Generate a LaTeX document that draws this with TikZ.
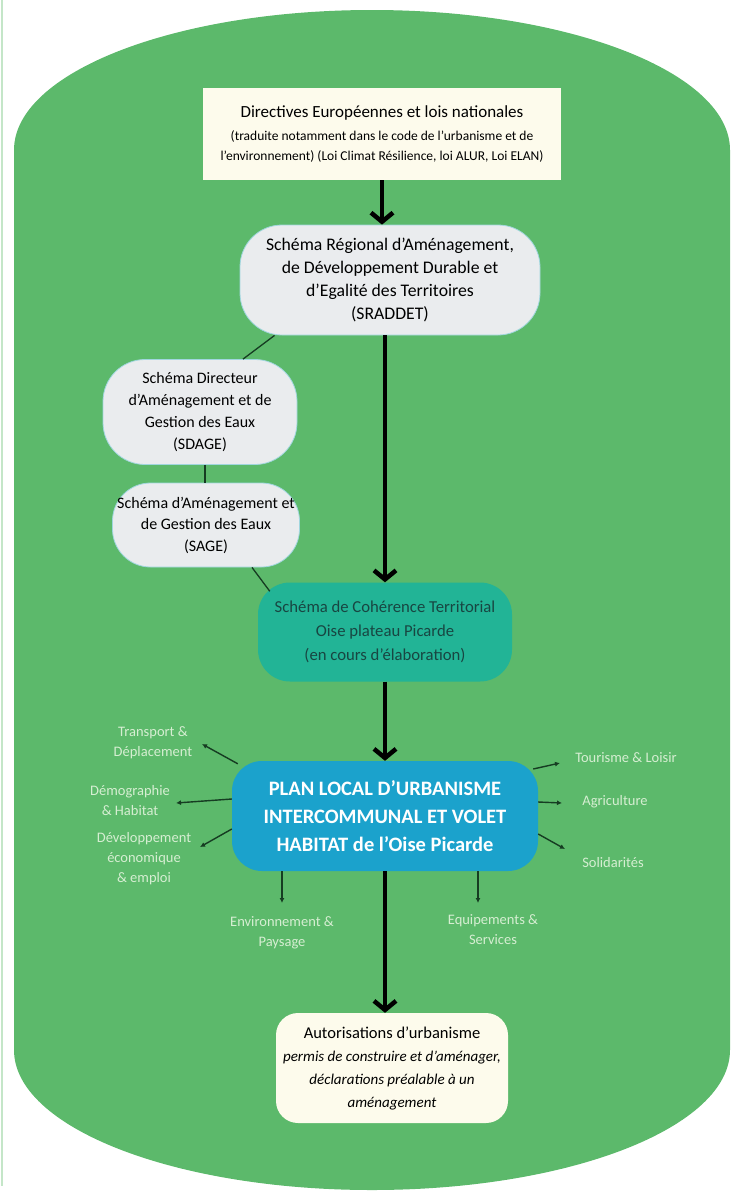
\documentclass[tikz,border=0pt]{standalone}
\usepackage{fontspec}
\setmainfont{Carlito}
\usetikzlibrary{positioning,arrows.meta}

\definecolor{bggreen}{RGB}{92,185,107}
\definecolor{edgegreen}{RGB}{196,230,200}
\definecolor{creambox}{RGB}{253,251,236}
\definecolor{greybox}{RGB}{234,236,238}
\definecolor{greyrim}{RGB}{160,214,222}
\definecolor{scotteal}{RGB}{34,180,150}
\definecolor{scottext}{RGB}{24,70,66}
\definecolor{pluiblue}{RGB}{27,162,204}
\definecolor{paletext}{RGB}{214,238,210}
\definecolor{linkgreen}{RGB}{22,60,34}

\begin{document}
\begin{tikzpicture}[x=1pt, y=-1pt, >=Latex,
    schema/.style={draw=greyrim, line width=0.8pt, fill=greybox, rounded corners=42pt,
        align=center, inner sep=0pt},
    bigarrow/.style={line width=4.5pt, -{Straight Barb[length=9pt, width=22pt, line width=4.5pt]}},
    smallarrow/.style={line width=1.4pt, draw=linkgreen, -{Latex[length=5pt, width=5pt]}},
    thinlink/.style={line width=1.3pt, draw=linkgreen},
    theme/.style={text=paletext, align=center, font=\fontsize{14.5}{20}\selectfont}]

    \useasboundingbox (0,0) rectangle (740,1192);

    % page edge and green backdrop
    \draw[line width=2pt, edgegreen] (2,0) -- (2,1186);
    \fill[bggreen] (14,150) arc[start angle=180, end angle=360, x radius=358, y radius=140]
        -- (730,1050) arc[start angle=0, end angle=180, x radius=358, y radius=140] -- cycle;

    % main chain
    \node[fill=creambox, minimum width=358pt, minimum height=92pt, align=center,
          font=\fontsize{13.5}{20}\selectfont] (dirs) at (382,134)
        {{\fontsize{17}{20}\selectfont Directives Européennes et lois nationales}\\[3pt]
         (traduite notamment dans le code de l'urbanisme et de\\
         l'environnement) (Loi Climat Résilience, loi ALUR, Loi ELAN)};

    \node[schema, minimum width=300pt, minimum height=110pt,
          font=\fontsize{17.7}{23}\selectfont] (sraddet) at (390,280)
        {Schéma Régional d'Aménagement,\\ de Développement Durable et\\
         d'Egalité des Territoires\\ (SRADDET)};

    \node[schema, minimum width=194pt, minimum height=105pt,
          font=\fontsize{16}{22}\selectfont] (sdage) at (200,412)
        {Schéma Directeur\\ d'Aménagement et de\\ Gestion des Eaux\\ (SDAGE)};

    \node[schema, minimum width=187pt, minimum height=84pt, rounded corners=38pt,
          font=\fontsize{16}{21.5}\selectfont] (sage) at (206,525)
        {Schéma d'Aménagement et\\ de Gestion des Eaux\\ (SAGE)};

    \node[fill=scotteal, text=scottext, rounded corners=32pt, minimum width=254pt,
          minimum height=99pt, align=center, inner sep=0pt,
          font=\fontsize{16.7}{24}\selectfont] (scot) at (385,632)
        {Schéma de Cohérence Territorial\\ Oise plateau Picarde\\ (en cours d'élaboration)};

    \node[fill=pluiblue, text=white, rounded corners=30pt, minimum width=306pt,
          minimum height=110pt, align=center, inner sep=0pt,
          font=\fontsize{20.5}{28}\selectfont\bfseries] (plui) at (385,816)
        {PLAN LOCAL D'URBANISME\\ INTERCOMMUNAL ET VOLET\\ HABITAT de l'Oise Picarde};

    \node[fill=creambox, rounded corners=22pt, minimum width=232pt, minimum height=110pt,
          align=center, inner sep=0pt, font=\fontsize{15}{23}\selectfont\itshape] (auto) at (392,1068)
        {{\fontsize{16.5}{23}\selectfont\upshape Autorisations d'urbanisme}\\
         permis de construire et d'aménager,\\ déclarations préalable à un\\ aménagement};

    \draw[bigarrow] (dirs.south) -- (dirs.south |- sraddet.north);
    \draw[bigarrow] (sraddet.south -| scot.north) -- (scot.north);
    \draw[bigarrow] (scot.south) -- (plui.north);
    \draw[bigarrow] (plui.south) -- (plui.south |- auto.north);

    % side schemes
    \draw[thinlink] ([xshift=35pt]sraddet.south west) -- ([xshift=43pt]sdage.north);
    \draw[thinlink] ([xshift=5pt]sdage.south) -- ([xshift=-1pt]sage.north);
    \draw[thinlink] ([xshift=46pt]sage.south) -- ([shift={(12pt,-9pt)}]scot.north west);

    % themes around the PLUi
    \node[theme] (transport) at (153,743) {Transport \&\\ Déplacement};
    \node[theme] (demo) at (130,801) {Démographie\\ \& Habitat};
    \node[theme] (eco) at (144,859) {Développement\\ économique\\ \& emploi};
    \node[theme] (envt) at (282,933) {Environnement \&\\ Paysage};
    \node[theme] (equip) at (493,930) {Equipements \&\\ Services};
    \node[theme] (tour) at (626,758) {Tourisme \& Loisir};
    \node[theme] (agri) at (615,802) {Agriculture};
    \node[theme] (soli) at (613,863) {Solidarités};

    \coordinate (transport-tip) at (202,744);
    \coordinate (demo-tip) at (176,803);
    \coordinate (eco-tip) at (200,847);
    \coordinate (envt-tip) at (282,903);
    \coordinate (equip-tip) at (478,903);
    \coordinate (tour-tip) at (560,763);
    \coordinate (agri-tip) at (562,803);
    \coordinate (soli-tip) at (565,849);

    \draw[smallarrow] ([shift={(6pt,-3pt)}]plui.north west) -- (transport-tip);
    \draw[smallarrow] (plui.west |- 0,799) -- (demo-tip);
    \draw[smallarrow] (plui.west |- 0,829) -- (eco-tip);
    \draw[smallarrow] (plui.south -| envt-tip) -- (envt-tip);
    \draw[smallarrow] (plui.south -| equip-tip) -- (equip-tip);
    \draw[smallarrow] ([xshift=-5pt]plui.east |- 0,769) -- (tour-tip);
    \draw[smallarrow] (plui.east |- 0,802) -- (agri-tip);
    \draw[smallarrow] (plui.east |- 0,834) -- (soli-tip);

\end{tikzpicture}
\end{document}
